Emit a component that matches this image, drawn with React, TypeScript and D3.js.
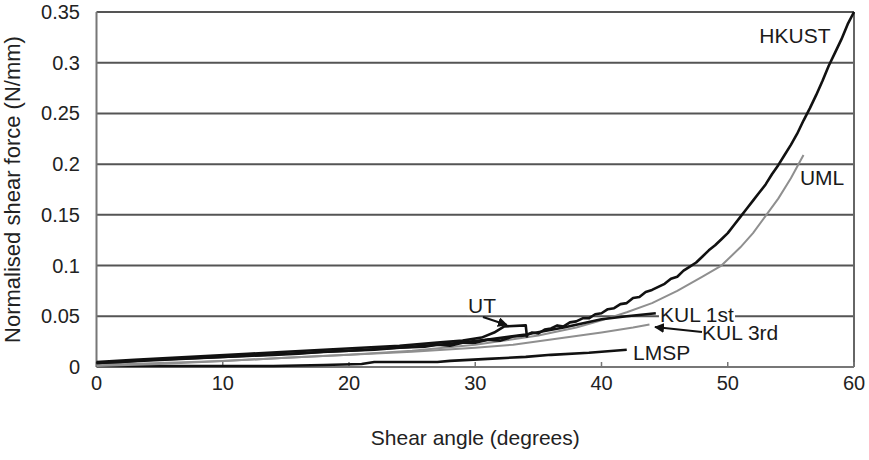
import React, { useEffect, useRef } from "react";
import * as d3 from "d3";

type Pt = [number, number];

const xTicks = [0, 10, 20, 30, 40, 50, 60];
const yTicks = [0, 0.05, 0.1, 0.15, 0.2, 0.25, 0.3, 0.35];
const yTickLabels = ["0", "0.05", "0.1", "0.15", "0.2", "0.25", "0.3", "0.35"];

const hkust: Pt[] = [
  [0, 0.004], [2, 0.005], [4, 0.007], [6, 0.008], [8, 0.009], [10, 0.01], [12, 0.011], [14, 0.012],
  [16, 0.013], [18, 0.015], [20, 0.016], [22, 0.017], [24, 0.019], [26, 0.02], [27, 0.022], [28, 0.021],
  [29, 0.024], [30, 0.024], [31, 0.027], [32, 0.026], [33, 0.03], [34, 0.031], [34.5, 0.034], [35, 0.033],
  [35.5, 0.037], [36, 0.038], [36.5, 0.041], [37, 0.04], [37.5, 0.044], [38, 0.045], [38.5, 0.048],
  [39, 0.048], [39.5, 0.052], [40, 0.053], [40.5, 0.057], [41, 0.058], [41.5, 0.062], [42, 0.063],
  [42.5, 0.068], [43, 0.069], [43.5, 0.074], [44, 0.076], [44.5, 0.079], [45, 0.082], [45.5, 0.087],
  [46, 0.089], [46.5, 0.095], [47, 0.099], [47.5, 0.103], [48, 0.109], [48.5, 0.115], [49, 0.12],
  [49.5, 0.126], [50, 0.132], [50.5, 0.14], [51, 0.148], [51.5, 0.156], [52, 0.164], [52.5, 0.172],
  [53, 0.18], [53.5, 0.19], [54, 0.199], [54.5, 0.209], [55, 0.219], [55.5, 0.23], [56, 0.243],
  [56.5, 0.255], [57, 0.268], [57.5, 0.282], [58, 0.297], [58.5, 0.31], [59, 0.323], [59.5, 0.338], [60, 0.35],
];

const ut: Pt[] = [
  [0, 0.005], [3, 0.007], [6, 0.009], [9, 0.011], [12, 0.013], [15, 0.015], [18, 0.017], [21, 0.019],
  [24, 0.021], [27, 0.024], [29, 0.026], [30.5, 0.029], [31.5, 0.034], [32.3, 0.04], [34, 0.041], [34.1, 0.029],
];

const kul1st: Pt[] = [
  [0, 0.004], [5, 0.007], [10, 0.01], [15, 0.013], [20, 0.016], [25, 0.02], [28, 0.023], [31, 0.027],
  [34, 0.032], [37, 0.039], [40, 0.047], [42, 0.05], [44.3, 0.053],
];

const uml: Pt[] = [
  [0, 0.001], [5, 0.003], [10, 0.006], [15, 0.009], [20, 0.012], [25, 0.016], [30, 0.022], [35, 0.031],
  [38, 0.039], [40, 0.046], [42, 0.054], [44, 0.063], [46, 0.075], [48, 0.089], [49.5, 0.1], [51, 0.118],
  [52, 0.132], [53, 0.149], [54, 0.166], [55, 0.186], [56, 0.209],
];

const kul3rd: Pt[] = [
  [0, 0.002], [5, 0.004], [10, 0.006], [15, 0.009], [20, 0.012], [25, 0.015], [30, 0.019], [33, 0.022],
  [36, 0.027], [40, 0.034], [42.5, 0.039], [43.8, 0.042],
];

const lmsp: Pt[] = [
  [0, 0.001], [5, 0.001], [10, 0.001], [14, 0.001], [18, 0.002], [21, 0.003], [22, 0.005], [27, 0.005],
  [28, 0.006], [31, 0.008], [34, 0.01], [36, 0.012], [39, 0.014], [42, 0.017],
];

const seriesNames = ["LMSP", "KUL 3rd", "UML", "KUL 1st", "UT", "HKUST"];
const seriesData = [lmsp, kul3rd, uml, kul1st, ut, hkust];
const seriesGrey = [false, true, true, false, false, false];

// label anchors in data coordinates (left x, baseline y)
const labelText = ["HKUST", "UML", "UT", "KUL 1st", "KUL 3rd", "LMSP"];
const labelAt: Pt[] = [[52.5, 0.3194], [55.72, 0.1794], [29.43, 0.0532], [44.63, 0.0444], [47.96, 0.0266], [42.5, 0.0069]];
// arrows: [from, to]
const arrows: [Pt, Pt][] = [
  [[30.61, 0.0493], [32.51, 0.0414]],
  [[47.96, 0.0345], [44.24, 0.0394]],
];

const W = 869;
const H = 460;
const FONT = "'Liberation Sans', Arial, sans-serif";

export default function App() {
  const ref = useRef<SVGSVGElement>(null);
  useEffect(() => {
    const svg = d3.select(ref.current);
    svg.selectAll("*").remove();
    const x = d3.scaleLinear().domain([0, 60]).range([96.5, 854]);
    const y = d3.scaleLinear().domain([0, 0.35]).range([367, 12]);

    svg.append("rect").attr("width", W).attr("height", H).attr("fill", "#fff");

    // grid lines
    svg.append("g").selectAll("line").data(yTicks.slice(1)).join("line")
      .attr("x1", x(0)).attr("x2", x(60))
      .attr("y1", (d) => y(d)).attr("y2", (d) => y(d))
      .attr("stroke", "#555").attr("stroke-width", 2);
    // right border
    svg.append("line").attr("x1", x(60)).attr("x2", x(60)).attr("y1", y(0.35)).attr("y2", y(0))
      .attr("stroke", "#666").attr("stroke-width", 2);
    // left axis
    svg.append("line").attr("x1", x(0)).attr("x2", x(0)).attr("y1", y(0.35)).attr("y2", y(0))
      .attr("stroke", "#777").attr("stroke-width", 2);
    // bottom axis
    svg.append("line").attr("x1", x(0)).attr("x2", x(60)).attr("y1", y(0)).attr("y2", y(0))
      .attr("stroke", "#777").attr("stroke-width", 2);
    svg.append("g").selectAll("line").data(xTicks).join("line")
      .attr("x1", (d) => x(d)).attr("x2", (d) => x(d))
      .attr("y1", y(0)).attr("y2", y(0) - 5)
      .attr("stroke", "#777").attr("stroke-width", 1.5);

    // tick labels
    svg.append("g").selectAll("text").data(xTicks).join("text")
      .attr("x", (d) => x(d)).attr("y", 390)
      .attr("text-anchor", "middle").attr("font-family", FONT).attr("font-size", 20).attr("fill", "#222")
      .text((d) => String(d));
    svg.append("g").selectAll("text").data(yTicks).join("text")
      .attr("x", 80).attr("y", (d) => y(d) + 7)
      .attr("text-anchor", "end").attr("font-family", FONT).attr("font-size", 20).attr("fill", "#222")
      .text((d, i) => yTickLabels[i]);

    // axis titles
    svg.append("text").attr("x", (x(0) + x(60)) / 2).attr("y", 445)
      .attr("text-anchor", "middle").attr("font-family", FONT).attr("font-size", 21).attr("fill", "#222")
      .text("Shear angle (degrees)");
    svg.append("text").attr("transform", `translate(20,${(y(0) + y(0.35)) / 2}) rotate(-90)`)
      .attr("text-anchor", "middle").attr("font-family", FONT).attr("font-size", 22).attr("fill", "#222")
      .text("Normalised shear force (N/mm)");

    // curves
    const line = d3.line<Pt>().x((d) => x(d[0])).y((d) => y(d[1]));
    seriesData.forEach((data, i) => {
      svg.append("path").attr("d", line(data) || "")
        .attr("fill", "none")
        .attr("stroke", seriesGrey[i] ? "#8f8f8f" : "#111")
        .attr("stroke-width", seriesGrey[i] ? 2 : 2.6)
        .attr("stroke-linejoin", "round")
        .attr("data-name", seriesNames[i]);
    });

    // labels with white backgrounds
    labelText.forEach((t, i) => {
      const g = svg.append("g");
      const bg = g.append("rect").attr("fill", "#fff");
      const txt = g.append("text").attr("x", x(labelAt[i][0])).attr("y", y(labelAt[i][1]))
        .attr("font-family", FONT).attr("font-size", 21).attr("fill", "#1a1a1a").text(t);
      const bb = (txt.node() as SVGTextElement).getBBox();
      bg.attr("x", bb.x - 1).attr("y", bb.y + 2).attr("width", bb.width + 2).attr("height", bb.height - 4);
    });

    // arrows
    const defs = svg.append("defs");
    defs.append("marker").attr("id", "ah").attr("viewBox", "0 0 10 10").attr("refX", 9).attr("refY", 5)
      .attr("markerWidth", 5).attr("markerHeight", 5).attr("orient", "auto")
      .append("path").attr("d", "M0,0 L10,5 L0,10 z").attr("fill", "#111");
    arrows.forEach(([a, b]) => {
      svg.append("line").attr("x1", x(a[0])).attr("y1", y(a[1])).attr("x2", x(b[0])).attr("y2", y(b[1]))
        .attr("stroke", "#111").attr("stroke-width", 2).attr("marker-end", "url(#ah)");
    });
  }, []);
  return (
    <svg ref={ref} width={W} height={H} style={{ position: "absolute", left: 0, top: 0 }} />
  );
}
